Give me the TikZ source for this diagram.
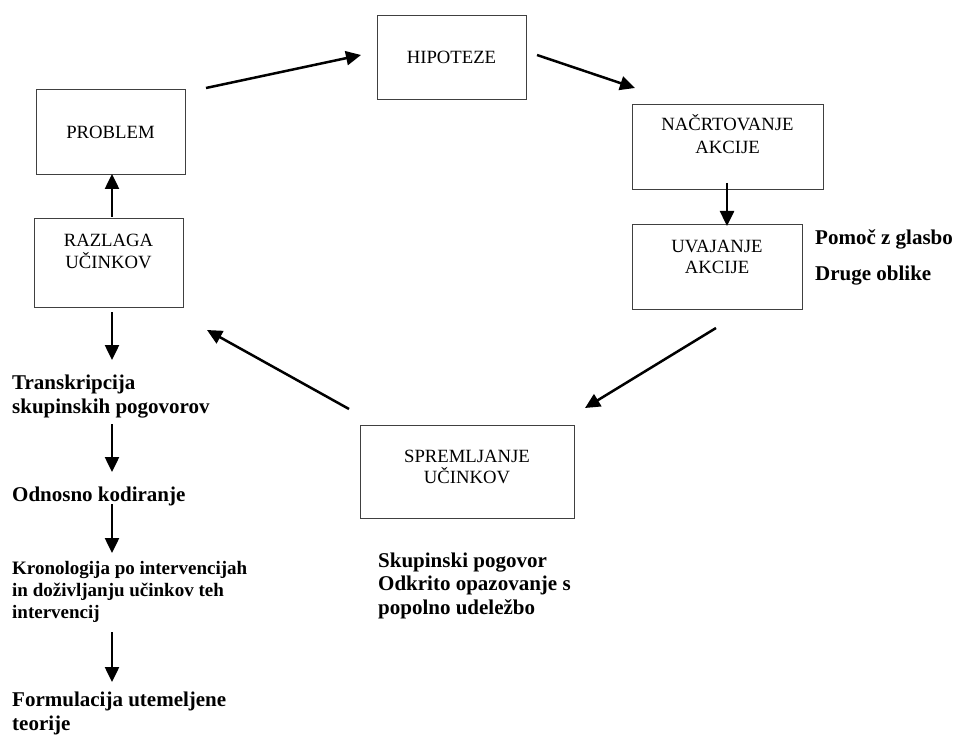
\documentclass[tikz,border=0pt]{standalone}
\usepackage{fontspec}
\setmainfont{Liberation Serif}
\usetikzlibrary{arrows.meta}
\begin{document}
\begin{tikzpicture}[x=1pt,y=-1pt,
  box/.style={draw=black!75,line width=0.9pt,inner sep=0pt},
  boxtext/.style={anchor=base,align=center,inner sep=0pt,font=\fontsize{18.7}{21.5}\selectfont},
  note/.style={anchor=base west,align=left,inner sep=0pt,font=\fontsize{21}{23.5}\selectfont\bfseries},
  smallnote/.style={anchor=base west,align=left,inner sep=0pt,font=\fontsize{19}{22}\selectfont\bfseries},
  flow/.style={line width=2.5pt,-{Triangle[length=15pt,width=14pt]}}]
\useasboundingbox (0,0) rectangle (955,735);
% boxes
\node[box,minimum width=149pt,minimum height=85pt] (prob) at (110.5,131.5) {};
\node[box,minimum width=149pt,minimum height=89pt] (razl) at (108.5,262.5) {};
\node[box,minimum width=149pt,minimum height=84pt] (hip) at (451.5,57) {};
\node[box,minimum width=191pt,minimum height=85pt] (nac) at (727.5,146.5) {};
\node[box,minimum width=170pt,minimum height=85pt] (uva) at (717,266.5) {};
\node[box,minimum width=214pt,minimum height=93pt] (spr) at (467,471.5) {};
% box texts (multi-line nodes are anchored at the baseline of their last line)
\node[boxtext] (tprob) at (110.5,139) {PROBLEM};
\node[boxtext] (trazl) at (108.5,268.5) {RAZLAGA\\UČINKOV};
\node[boxtext] (thip) at (451.5,64) {HIPOTEZE};
\node[boxtext,font=\fontsize{18.7}{23}\selectfont] (tnac) at (727.5,154) {NAČRTOVANJE\\AKCIJE};
\node[boxtext] (tuva) at (717,273.5) {UVAJANJE\\AKCIJE};
\node[boxtext] (tspr) at (467,483.5) {SPREMLJANJE\\UČINKOV};
% side notes
\node[note] (pomoc) at (815,245) {Pomoč z glasbo};
\node[note] (druge) at (815,280) {Druge oblike};
\node[note] (skup) at (378,614) {Skupinski pogovor\\Odkrito opazovanje s\\popolno udeležbo};
\node[note] (trans) at (12,413) {Transkripcija\\skupinskih pogovorov};
\node[note] (odn) at (12,501) {Odnosno kodiranje};
\node[smallnote] (kron) at (12,618) {Kronologija po intervencijah\\in doživljanju učinkov teh\\intervencij};
\node[note] (form) at (12,730) {Formulacija utemeljene\\teorije};
% arrow end points
\coordinate (a1s) at (206,88);  \coordinate (a1e) at (361,55);
\coordinate (a2s) at (537,55);  \coordinate (a2e) at (635,88);
\coordinate (a3s) at (727,183); \coordinate (a3e) at (727,226);
\coordinate (a4s) at (716,328); \coordinate (a4e) at (585,408);
\coordinate (a5s) at (349,409); \coordinate (a5e) at (207,330);
\coordinate (a6s) at (112,217); \coordinate (a6e) at (112,174);
\coordinate (b1s) at (112,312); \coordinate (b1e) at (112,360);
\coordinate (b2s) at (112,424); \coordinate (b2e) at (112,472);
\coordinate (b3s) at (112,504); \coordinate (b3e) at (112,553);
\coordinate (b4s) at (112,632); \coordinate (b4e) at (112,682);
\draw[flow] (a1s) -- (a1e);
\draw[flow] (a2s) -- (a2e);
\draw[flow] (a3s) -- (a3e);
\draw[flow] (a4s) -- (a4e);
\draw[flow] (a5s) -- (a5e);
\draw[flow] (a6s) -- (a6e);
\draw[flow] (b1s) -- (b1e);
\draw[flow] (b2s) -- (b2e);
\draw[flow] (b3s) -- (b3e);
\draw[flow] (b4s) -- (b4e);
\end{tikzpicture}
\end{document}
